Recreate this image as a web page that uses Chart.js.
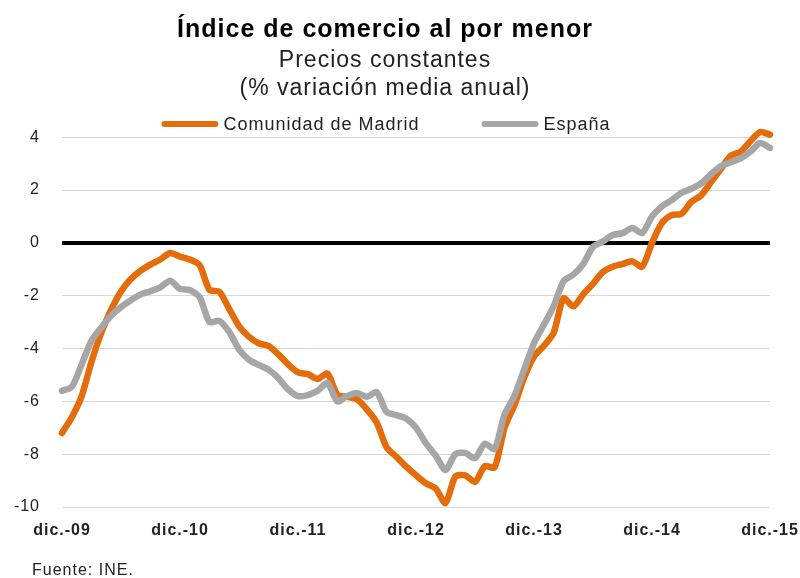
<!DOCTYPE html>
<html>
<head>
<meta charset="utf-8">
<script src="https://cdn.jsdelivr.net/npm/chart.js@4/dist/chart.umd.min.js"></script>
<style>
  body { margin: 0; background: #fff; }
  #wrap { position: relative; width: 800px; height: 578px; }
  #source { position: absolute; left: 32px; top: 561px; font: 16px "Liberation Sans"; letter-spacing: 1px; color: #222; }
</style>
</head>
<body>
<div id="wrap">
  <canvas id="myChart" width="800" height="578"></canvas>
  <div id="source">Fuente: INE.</div>
</div>
<script>
// monthly, dic.-09 .. dic.-15
const months = ['ene.', 'feb.', 'mar.', 'abr.', 'may.', 'jun.', 'jul.', 'ago.', 'sep.', 'oct.', 'nov.', 'dic.'];
const firstYear = 9;
const labels = [];
for (let i = 0; i < 73; i++) {
    const m = (11 + i) % 12;
    const y = firstYear + Math.floor((11 + i) / 12);
    labels.push(months[m] + '-' + String(y).padStart(2, '0'));
}

const madrid = [
    -7.2, -6.6, -5.8, -4.5, -3.4, -2.53, -1.84, -1.37, -1.05, -0.82, -0.63, -0.38,
    -0.52, -0.63, -0.85, -1.78, -1.85, -2.5, -3.15, -3.55, -3.8, -3.9, -4.22, -4.6,
    -4.9, -4.97, -5.15, -4.95, -5.75, -5.83, -5.92, -6.3, -6.8, -7.73, -8.1, -8.47,
    -8.8, -9.1, -9.3, -9.85, -8.85, -8.8, -9.05, -8.45, -8.5, -7.0, -6.15, -5.1,
    -4.3, -3.9, -3.4, -2.1, -2.4, -1.95, -1.55, -1.1, -0.9, -0.8, -0.7, -0.9,
    0.0, 0.75, 1.05, 1.1, 1.55, 1.8, 2.3, 2.8, 3.3, 3.45, 3.85, 4.2,
    4.1
];
const espana = [
    -5.6, -5.45, -4.6, -3.7, -3.2, -2.75, -2.43, -2.17, -1.95, -1.83, -1.68, -1.43,
    -1.74, -1.78, -2.06, -3.0, -2.95, -3.37, -4.03, -4.42, -4.62, -4.8, -5.12, -5.55,
    -5.8, -5.76, -5.6, -5.3, -6.0, -5.8, -5.68, -5.83, -5.65, -6.4, -6.52, -6.65,
    -7.0, -7.58, -8.05, -8.6, -8.0, -7.95, -8.15, -7.6, -7.8, -6.5, -5.8, -4.8,
    -3.8, -3.1, -2.4, -1.45, -1.2, -0.8, -0.15, 0.05, 0.3, 0.37, 0.56, 0.37,
    1.0, 1.38, 1.62, 1.9, 2.05, 2.25, 2.6, 2.9, 3.05, 3.2, 3.45, 3.78,
    3.6
];

const FONT = '"Liberation Sans", Arial, sans-serif';

// wider tracking, as in the original
const spacing = {
    id: 'spacing',
    beforeLayout(chart) { chart.ctx.letterSpacing = '1px'; },
    beforeDraw(chart) { chart.ctx.letterSpacing = '1px'; }
};

// legend in one row above the plot
const lineLegend = {
    id: 'lineLegend',
    afterDraw(chart) {
        const ctx = chart.ctx;
        ctx.save();
        ctx.font = '18px ' + FONT;
        ctx.letterSpacing = '1px';
        ctx.textBaseline = 'middle';
        ctx.fillStyle = '#222';
        const sample = 57, gap = 5, between = 62, y = 124;
        const items = chart.data.datasets.map(ds => ({
            text: ds.label, color: ds.borderColor, w: ctx.measureText(ds.label).width
        }));
        let total = items.reduce((s, it) => s + sample + gap + it.w, 0) + between * (items.length - 1);
        let x = 386 - total / 2;
        items.forEach(it => {
            ctx.strokeStyle = it.color;
            ctx.lineWidth = 6;
            ctx.lineCap = 'round';
            ctx.beginPath();
            ctx.moveTo(x + 3, y);
            ctx.lineTo(x + sample - 3, y);
            ctx.stroke();
            ctx.fillText(it.text, x + sample + gap, y + 1);
            x += sample + gap + it.w + between;
        });
        ctx.restore();
    }
};

new Chart(document.getElementById('myChart'), {
    type: 'line',
    data: {
        labels: labels,
        datasets: [{
            label: 'Comunidad de Madrid',
            data: madrid,
            borderColor: '#e46c0a',
            borderWidth: 6.5,
            order: 1
        }, {
            label: 'España',
            data: espana,
            borderColor: '#a6a6a6',
            borderWidth: 6.5,
            order: 0
        }]
    },
    options: {
        responsive: false,
        animation: false,
        layout: { padding: { left: 0, right: 30, top: 0, bottom: 36 } },
        elements: {
            point: { radius: 0 },
            line: { tension: 0.25, borderCapStyle: 'round', borderJoinStyle: 'round', fill: false }
        },
        datasets: { line: { clip: false } },
        plugins: {
            legend: { display: false },
            tooltip: { enabled: false },
            title: {
                display: true,
                text: 'Índice de comercio al por menor',
                color: '#000',
                font: { family: FONT, size: 25, weight: 'bold', lineHeight: 1.25 },
                padding: { top: 14, bottom: 0 }
            },
            subtitle: {
                display: true,
                text: ['Precios constantes', '(% variación media anual)'],
                color: '#222',
                font: { family: FONT, size: 23, lineHeight: 28 / 23 },
                padding: { top: 1, bottom: 35 }
            }
        },
        scales: {
            x: {
                offset: false,
                grid: { display: false, drawTicks: false },
                border: { display: false },
                ticks: {
                    autoSkip: false,
                    maxRotation: 0,
                    padding: 14,
                    color: '#222',
                    font: { family: FONT, size: 16, weight: 'bold' },
                    callback: (v, i) => (i % 12 === 0 ? labels[i] : '')
                },
                afterFit: scale => {
                    scale.height = 35;
                    scale.paddingLeft = 0;
                    scale.paddingRight = 0;
                }
            },
            y: {
                min: -10,
                max: 4,
                grid: {
                    drawTicks: false,
                    color: c => (c.tick.value === 0 ? '#000' : '#d9d9d9'),
                    lineWidth: c => (c.tick.value === 0 ? 4 : 1)
                },
                border: { display: false },
                ticks: {
                    stepSize: 2,
                    padding: 22,
                    color: '#222',
                    font: { family: FONT, size: 16 }
                },
                afterFit: scale => { scale.width = 62; }
            }
        }
    },
    plugins: [spacing, lineLegend]
});
</script>
</body>
</html>
